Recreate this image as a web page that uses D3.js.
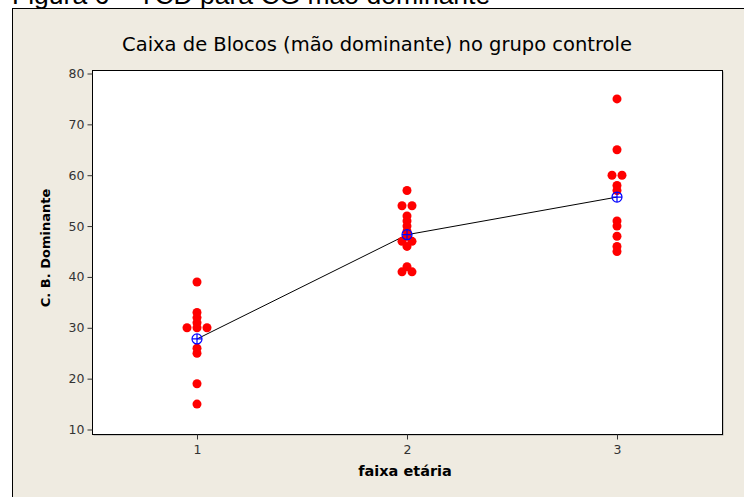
<!DOCTYPE html>
<html>
<head>
<meta charset="utf-8">
<script src="https://cdnjs.cloudflare.com/ajax/libs/d3/7.8.5/d3.min.js"></script>
<style>
  body { margin: 0; background: #fff; }
  svg { display: block; }
</style>
</head>
<body>
<script>
var groups = [1, 2, 3];
var group1 = [39, 33, 32, 31, 30, 30, 30, 26, 25, 19, 15];
var group2 = [57, 54, 54, 52, 51, 50, 49, 48, 47, 47, 46, 42, 41, 41];
var group3 = [75, 65, 60, 60, 58, 57, 51, 50, 48, 46, 45];
var means = [27.8, 48.3, 55.7];
var yTicks = [10, 20, 30, 40, 50, 60, 70, 80];

var width = 744, height = 497;
var box = {left: 92, right: 722, top: 70, bottom: 434};

var svg = d3.select("body").append("svg")
    .attr("width", width)
    .attr("height", height);

// caption above the figure (cut off at the top, as in the source page)
svg.append("text")
    .attr("x", 12)
    .attr("y", 4)
    .attr("font-family", "Liberation Sans, Arial, sans-serif")
    .attr("font-size", 26.5)
    .attr("fill", "#000")
    .text("Figura 6 – TCD para CG mão dominante");

// outer frame
svg.append("rect")
    .attr("x", 12.5)
    .attr("y", 8.5)
    .attr("width", 760)
    .attr("height", 520)
    .attr("fill", "#EFEBE1")
    .attr("stroke", "#000")
    .attr("stroke-width", 1);

var x = d3.scaleLinear().domain([0.5, 3.5]).range([box.left, box.right]);
var y = d3.scaleLinear().domain([10, 80]).range([429.5, 73.5]);

// plot box with shadow
svg.append("rect")
    .attr("x", box.left + 1.5)
    .attr("y", box.top + 1.5)
    .attr("width", box.right - box.left)
    .attr("height", box.bottom - box.top)
    .attr("fill", "#A0A0A0");
svg.append("rect")
    .attr("x", box.left + 0.5)
    .attr("y", box.top + 0.5)
    .attr("width", box.right - box.left)
    .attr("height", box.bottom - box.top)
    .attr("fill", "#fff")
    .attr("stroke", "#000")
    .attr("stroke-width", 1);

var tickFont = "Tahoma, DejaVu Sans, sans-serif";

// y axis
var yAxis = svg.append("g")
    .attr("transform", "translate(" + (box.left + 0.5) + ",0)")
    .call(d3.axisLeft(y).tickValues(yTicks).tickSize(5).tickPadding(3).tickSizeOuter(0));
yAxis.select(".domain").remove();

// x axis
var xAxis = svg.append("g")
    .attr("transform", "translate(0," + (box.bottom + 0.5) + ")")
    .call(d3.axisBottom(x).tickValues(groups).tickFormat(d3.format("d")).tickSize(5).tickPadding(6).tickSizeOuter(0));
xAxis.select(".domain").remove();

svg.selectAll(".tick text")
    .attr("font-family", tickFont)
    .attr("font-size", 12.5)
    .attr("fill", "#333");
svg.selectAll(".tick line").attr("stroke", "#333");

// title and labels
svg.append("text")
    .attr("x", 377)
    .attr("y", 51)
    .attr("text-anchor", "middle")
    .attr("font-family", tickFont)
    .attr("font-size", 19.5)
    .text("Caixa de Blocos (mão dominante) no grupo controle");

svg.append("text")
    .attr("x", 405)
    .attr("y", 476)
    .attr("text-anchor", "middle")
    .attr("font-family", tickFont)
    .attr("font-size", 14.5)
    .attr("font-weight", "bold")
    .text("faixa etária");

svg.append("text")
    .attr("transform", "translate(50,248) rotate(-90)")
    .attr("text-anchor", "middle")
    .attr("font-family", tickFont)
    .attr("font-size", 13)
    .attr("font-weight", "bold")
    .text("C. B. Dominante");

// points: ties are placed side by side
var spacing = 10;
var points = [];
[group1, group2, group3].forEach(function(vals, gi) {
    var counts = d3.rollup(vals, v => v.length, d => d);
    var seen = new Map();
    vals.forEach(function(v) {
        var n = counts.get(v);
        var k = seen.get(v) || 0;
        seen.set(v, k + 1);
        var off = (k - (n - 1) / 2) * spacing;
        points.push({g: groups[gi], v: v, off: off});
    });
});

// mean connect line
svg.append("path")
    .datum(means)
    .attr("fill", "none")
    .attr("stroke", "#000")
    .attr("stroke-width", 1)
    .attr("d", d3.line().x((d, i) => x(groups[i])).y(d => y(d)));

svg.selectAll("circle.pt")
    .data(points)
    .enter()
    .append("circle")
    .attr("class", "pt")
    .attr("cx", d => x(d.g) + d.off)
    .attr("cy", d => y(d.v))
    .attr("r", 4.5)
    .attr("fill", "#FF0000");

// mean symbols (circle with cross)
var m = svg.selectAll("g.mean")
    .data(means)
    .enter()
    .append("g")
    .attr("class", "mean")
    .attr("transform", (d, i) => "translate(" + x(groups[i]) + "," + y(d) + ")");
m.append("circle")
    .attr("r", 5)
    .attr("fill", "none")
    .attr("stroke", "#0000FF")
    .attr("stroke-width", 1.2);
m.append("path")
    .attr("d", "M-5,0H5M0,-5V5")
    .attr("stroke", "#0000FF")
    .attr("stroke-width", 1.2);
</script>
</body>
</html>
